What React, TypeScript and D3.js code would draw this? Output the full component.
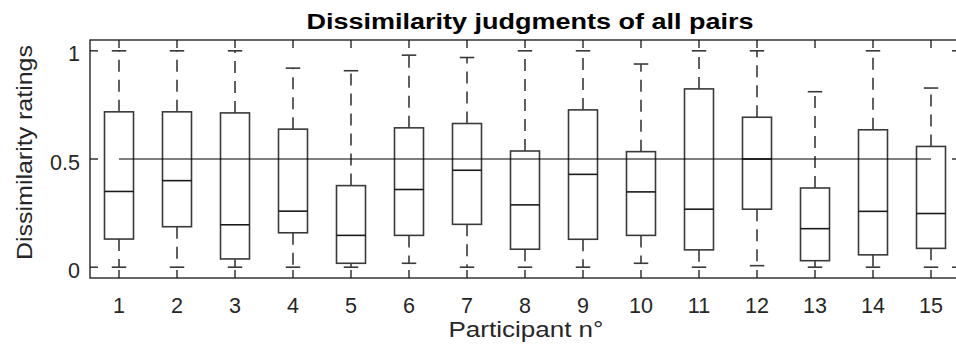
import React from "react";
import * as d3 from "d3";

// Participants and the five-number summaries of their dissimilarity ratings
const participants = [1, 2, 3, 4, 5, 6, 7, 8, 9, 10, 11, 12, 13, 14, 15];
const whiskerLow = [0, 0, 0, 0, 0, 0.018, 0, 0, 0, 0.018, 0, 0.007, 0, 0, 0];
const q1 = [0.13, 0.187, 0.038, 0.159, 0.018, 0.147, 0.198, 0.083, 0.129, 0.147, 0.08, 0.268, 0.03, 0.057, 0.087];
const medians = [0.35, 0.4, 0.196, 0.259, 0.147, 0.359, 0.448, 0.288, 0.429, 0.348, 0.268, 0.5, 0.178, 0.258, 0.248];
const q3 = [0.718, 0.718, 0.713, 0.638, 0.377, 0.644, 0.664, 0.537, 0.727, 0.534, 0.824, 0.693, 0.366, 0.635, 0.558];
const whiskerHigh = [1, 1, 1, 0.92, 0.908, 0.98, 0.969, 1, 1, 0.939, 1, 1, 0.811, 1, 0.828];
const yTicks = [0, 0.5, 1];
const yTickLabels = ["0", "0.5", "1"];
const referenceLevel = 0.5;

const W = 956;
const H = 352;
const left = 90;
const right = 960;
const top = 40;
const bottom = 278;

const FONT = "'Liberation Sans', Arial, Helvetica, sans-serif";
const AXIS = "#262626";
const BOXC = "#3a3a3a";
const LW = 1.6;

export default function App() {
  const x = d3.scaleLinear().domain([0.5, 15.5]).range([left, right]);
  const y = d3.scaleLinear().domain([-0.05, 1.05]).range([bottom, top]);
  const boxHalf = x(0.25) - x(0);
  const capHalf = x(0.125) - x(0);
  const tickLen = 8;

  const data = participants.map((p, i) => ({
    p,
    lo: whiskerLow[i],
    q1: q1[i],
    med: medians[i],
    q3: q3[i],
    hi: whiskerHigh[i],
  }));

  return (
    <svg
      width={W}
      height={H}
      style={{ position: "absolute", left: 0, top: 0, background: "#fff" }}
    >
      <rect x={0} y={0} width={W} height={H} fill="#fff" />

      {/* whiskers, caps and boxes */}
      {data.map((d) => {
        const cx = x(d.p);
        return (
          <g key={d.p} fill="none">
            <line x1={cx} x2={cx} y1={y(d.q3)} y2={y(d.hi)} stroke={BOXC} strokeWidth={LW} strokeDasharray="12,8" />
            <line x1={cx} x2={cx} y1={y(d.q1)} y2={y(d.lo)} stroke={BOXC} strokeWidth={LW} strokeDasharray="12,8" />
            <line x1={cx - capHalf} x2={cx + capHalf} y1={y(d.hi)} y2={y(d.hi)} stroke={BOXC} strokeWidth={LW} />
            <line x1={cx - capHalf} x2={cx + capHalf} y1={y(d.lo)} y2={y(d.lo)} stroke={BOXC} strokeWidth={LW} />
            <rect
              x={cx - boxHalf}
              y={y(d.q3)}
              width={2 * boxHalf}
              height={y(d.q1) - y(d.q3)}
              stroke={BOXC}
              strokeWidth={LW}
            />
            <line x1={cx - boxHalf} x2={cx + boxHalf} y1={y(d.med)} y2={y(d.med)} stroke="#1a1a1a" strokeWidth={LW} />
          </g>
        );
      })}

      {/* reference level */}
      <line
        x1={x(participants[0])}
        x2={x(participants[participants.length - 1])}
        y1={y(referenceLevel)}
        y2={y(referenceLevel)}
        stroke="#000"
        strokeWidth={1.2}
      />

      {/* axes box */}
      <rect x={left} y={top} width={right - left} height={bottom - top} fill="none" stroke={AXIS} strokeWidth={1.4} />

      {/* x ticks */}
      {participants.map((p) => (
        <g key={"xt" + p}>
          <line x1={x(p)} x2={x(p)} y1={bottom} y2={bottom - tickLen} stroke={AXIS} strokeWidth={1.4} />
          <line x1={x(p)} x2={x(p)} y1={top} y2={top + tickLen} stroke={AXIS} strokeWidth={1.4} />
          <text x={x(p)} y={313} textAnchor="middle" fontFamily={FONT} fontSize={21.5} fill={AXIS}>
            {p}
          </text>
        </g>
      ))}

      {/* y ticks */}
      {yTicks.map((t, i) => (
        <g key={"yt" + t}>
          <line x1={left} x2={left + tickLen} y1={y(t)} y2={y(t)} stroke={AXIS} strokeWidth={1.4} />
          <line x1={right} x2={right - tickLen} y1={y(t)} y2={y(t)} stroke={AXIS} strokeWidth={1.4} />
          <text x={80} y={y(t) + 10.5} textAnchor="end" fontFamily={FONT} fontSize={21.5} fill={AXIS}>
            {yTickLabels[i]}
          </text>
        </g>
      ))}

      {/* title and axis labels */}
      <text
        x={530}
        y={29}
        textAnchor="middle"
        fontFamily={FONT}
        fontWeight="bold"
        fontSize={22}
        fill="#000"
        textLength={447}
        lengthAdjust="spacingAndGlyphs"
      >
        Dissimilarity judgments of all pairs
      </text>
      <text
        x={526}
        y={337}
        textAnchor="middle"
        fontFamily={FONT}
        fontSize={22}
        fill={AXIS}
        textLength={155}
        lengthAdjust="spacingAndGlyphs"
      >
        Participant n°
      </text>
      <text
        transform={`translate(32,${152.5}) rotate(-90)`}
        textAnchor="middle"
        fontFamily={FONT}
        fontSize={22}
        fill={AXIS}
        textLength={215}
        lengthAdjust="spacingAndGlyphs"
      >
        Dissimilarity ratings
      </text>
    </svg>
  );
}
